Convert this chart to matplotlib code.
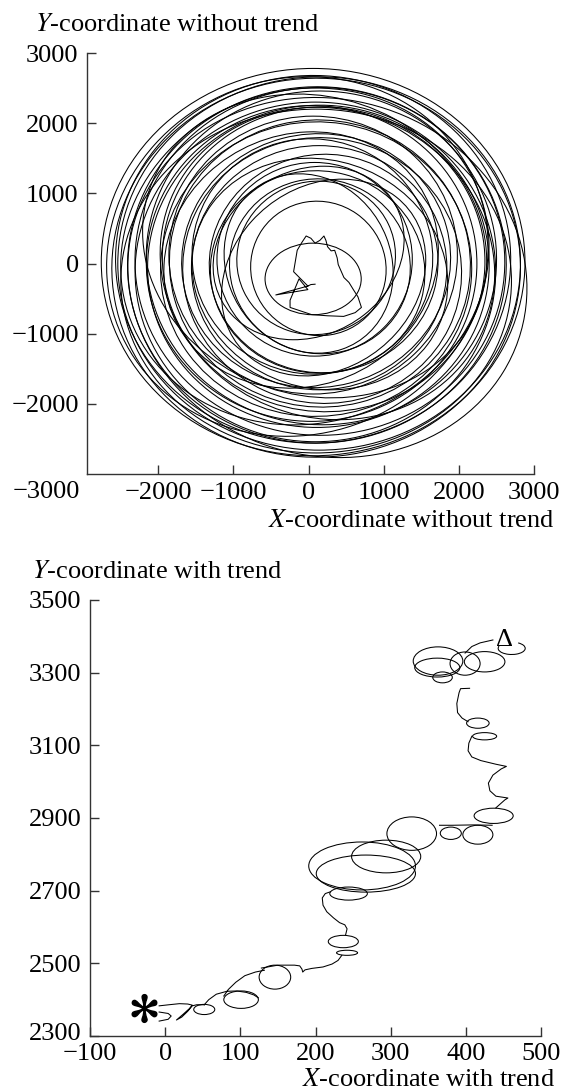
import numpy as np
import matplotlib
matplotlib.use("Agg")
import matplotlib.pyplot as plt
from matplotlib.patches import Ellipse, Arc
from matplotlib.transforms import ScaledTranslation

plt.rcParams['font.family'] = ['Liberation Serif', 'DejaVu Serif']
plt.rcParams['mathtext.fontset'] = 'stix'

# ---------- top panel: trajectory without trend (loops) ----------
ring_cx = [60, 130, 100, 150, 80, 120, 200, 50, 140, 100, 180, 60, 150, 100,
           200, 40, 130, 170, 90, 150, 110, 250, 60, 140, 100, 60,
           0, 200, -100, 250, -50, 100, 0, -150, 150, 80]
ring_cy = [-220, -70, 80, -40, 60, -120, 0, 100, -60, 40, -100, 120, 0, -80,
           60, 0, -40, 80, -120, 30, -20, -200, 60, 0, -60, 20,
           150, -200, 50, 0, 100, -250, 0, 100, -150, 250]
ring_rx = [640, 900, 1050, 1200, 1300, 1420, 1520, 1600, 1700, 1780, 1850, 1920, 2000, 2070,
           2140, 2200, 2270, 2330, 2400, 2460, 2520, 2700, 2630, 2680, 2720, 2820,
           1350, 1250, 1900, 2300, 2500, 2600, 1100, 2620, 1750, 2100]
ring_ry = [510, 960, 1100, 1250, 1380, 1450, 1560, 1680, 1740, 1820, 1900, 1980, 2050, 2100,
           2180, 2250, 2300, 2380, 2420, 2480, 2540, 2520, 2620, 2660, 2700, 2760,
           1150, 1500, 1750, 2150, 2350, 2450, 1300, 2480, 1600, 2350]
ring_ang = [0, 10, -20, 15, 0, 30, -15, 10, 0, -30, 20, 0, 15, -10,
            25, 0, -20, 10, 0, 15, -10, -30, 5, 0, 10, 0,
            40, -40, 45, -45, 35, 0, 20, 50, -35, 60]

# inner wandering part near the start
inner_x = [86, 30, -10, -437, -10, -128, -247, -247, 38, 250, 466, 620, 703, 656, 600, 537,
           470, 394, 380, 347, 300, 252, 230, 204, 150, 86, 30, -33, -90, -152, -200, -10]
inner_y = [-295, -300, -321, -448, -372, -219, -524, -626, -728, -745, -754, -700, -626, -474,
           -380, -270, -200, -15, 80, 188, 180, 239, 330, 392, 330, 290, 360, 392, 300, 188,
           -117, -321]

# ---------- bottom panel: trajectory with trend ----------
path_x = [-8, 4, 8, 4, -8, None,
          -8, 5, 19, 30, 36, 32, 24, 15, 22, 30, 36, 42, 52, None,
          52, 58, 68, 82, 95, 108, 118, 124, None,
          78, 84, 94, 106, 120, 132, None,
          128, 150, 172, 179, 182, 183, 186, 195, 210, 222, 230, 235, None,
          240, 242, 239, 232, 224, 215, 210, 209, 213, 220, None,
          365, 382, 410, 435, None,
          440, 452, 456, 440, 432, 430, 436, 447, 454, 440, 420, 408, 403, 404, 408, None,
          403, 395, 389, 388, 391, 393, 405, None,
          399, 408, 419, 436]
path_y = [2366, 2362, 2355, 2346, 2341, None,
          2383, 2386, 2389, 2388, 2385, 2375, 2360, 2344, 2352, 2368, 2383, 2386, 2386, None,
          2386, 2400, 2415, 2423, 2424, 2420, 2413, 2405, None,
          2410, 2428, 2448, 2466, 2476, 2481, None,
          2487, 2495, 2495, 2493, 2484, 2476, 2482, 2486, 2490, 2498, 2508, 2522, None,
          2578, 2595, 2606, 2612, 2625, 2642, 2660, 2680, 2692, 2697, None,
          2880, 2880, 2881, 2880, None,
          2928, 2950, 2955, 2960, 2975, 2996, 3018, 3035, 3042, 3048, 3058, 3068, 3085, 3106,
          3125, None,
          3165, 3175, 3190, 3215, 3245, 3256, 3257, None,
          3354, 3372, 3382, 3390]

loop_cx = [52, 101, 146, 237, 242, 244, 267, 262, 294, 328, 380, 416, 437,
           416, 425, 369, 362, 363, 399, 425]
loop_cy = [2373, 2400, 2462, 2560, 2529, 2692, 2747, 2768, 2794, 2857, 2858, 2854, 2906,
           3161, 3125, 3287, 3314, 3332, 3325, 3330]
loop_rx = [14, 23, 21, 20, 14, 25, 66, 71, 46, 33, 14, 20, 26,
           15, 16, 13, 30, 33, 20, 27]
loop_ry = [14, 24, 33, 17, 7, 18, 51, 66, 45, 46, 17, 26, 21,
           14, 10, 15, 26, 39, 32, 28]

fig = plt.figure(figsize=(5.62, 10.92), dpi=100)
W, H = 562.0, 1092.0


def make_axes(left, top, right, bottom):
    ax = fig.add_axes([left / W, 1 - bottom / H, (right - left) / W, (bottom - top) / H])
    for s in ['top', 'right']:
        ax.spines[s].set_visible(False)
    for s in ['left', 'bottom']:
        ax.spines[s].set_linewidth(1.0)
        ax.spines[s].set_color('#333333')
    ax.tick_params(direction='in', length=6.5, width=1.0, color='#333333',
                   labelsize=19, pad=6)
    return ax


# top panel
ax1 = make_axes(87, 53, 534, 474)
for cx, cy, rx, ry, ang in zip(ring_cx, ring_cy, ring_rx, ring_ry, ring_ang):
    ax1.add_patch(Ellipse((cx, cy), 2 * rx, 2 * ry, angle=ang, fill=False,
                          lw=0.75, color='black'))
ax1.plot(inner_x, inner_y, color='black', lw=0.75)
ax1.set_xlim(-2950, 3000)
ax1.set_ylim(-3000, 3000)
ax1.set_xticks([-2000, -1000, 0, 1000, 2000, 3000])
ax1.set_xticklabels(['\u22122000', '\u22121000', '0', '1000', '2000', '3000'])
ax1.set_yticks([-2000, -1000, 0, 1000, 2000, 3000])
ax1.set_yticklabels(['\u22122000', '\u22121000', '0', '1000', '2000', '3000'])
fig.text(46 / W, 1 - 492 / H, '\u22123000', fontsize=19, ha='center', va='center')
fig.text(35 / W, 1 - 31 / H, r'$\mathit{Y}$-coordinate without trend', fontsize=19,
         ha='left', va='baseline')
fig.text(555 / W, 1 - 527 / H, r'$\mathit{X}$-coordinate without trend', fontsize=19,
         ha='right', va='baseline')

# bottom panel
ax2 = make_axes(90, 600, 541, 1036)
ax2.plot(path_x, path_y, color='black', lw=0.75)
for cx, cy, rx, ry in zip(loop_cx, loop_cy, loop_rx, loop_ry):
    ax2.add_patch(Ellipse((cx, cy), 2 * rx, 2 * ry, fill=False, lw=0.75, color='black'))
ax2.add_patch(Arc((461, 3367), 36, 34, theta1=-200, theta2=60, lw=0.75, color='black'))
ax2.plot([-28], [2377], marker='$*$', ms=20, color='black')
ax2.text(451, 3390, '\u0394', fontsize=19, ha='center', va='center')
ax2.set_xlim(-100, 500)
ax2.set_ylim(2300, 3500)
ax2.set_xticks([-100, 0, 100, 200, 300, 400, 500])
ax2.set_xticklabels(['\u2212100', '0', '100', '200', '300', '400', '500'])
ax2.set_yticks([2300, 2500, 2700, 2900, 3100, 3300, 3500])
ax2.tick_params(axis='x', pad=5)
fig.canvas.draw()
# the corner labels nearly touch in the original; nudge them apart a little
lab = ax2.get_yticklabels()[0]
lab.set_transform(lab.get_transform() + ScaledTranslation(0, 5 / 100, fig.dpi_scale_trans))
fig.text(32 / W, 1 - 578 / H, r'$\mathit{Y}$-coordinate with trend', fontsize=19,
         ha='left', va='baseline')
fig.text(555 / W, 1 - 1086 / H, r'$\mathit{X}$-coordinate with trend', fontsize=19,
         ha='right', va='baseline')

fig.savefig('out.png', dpi=100)
